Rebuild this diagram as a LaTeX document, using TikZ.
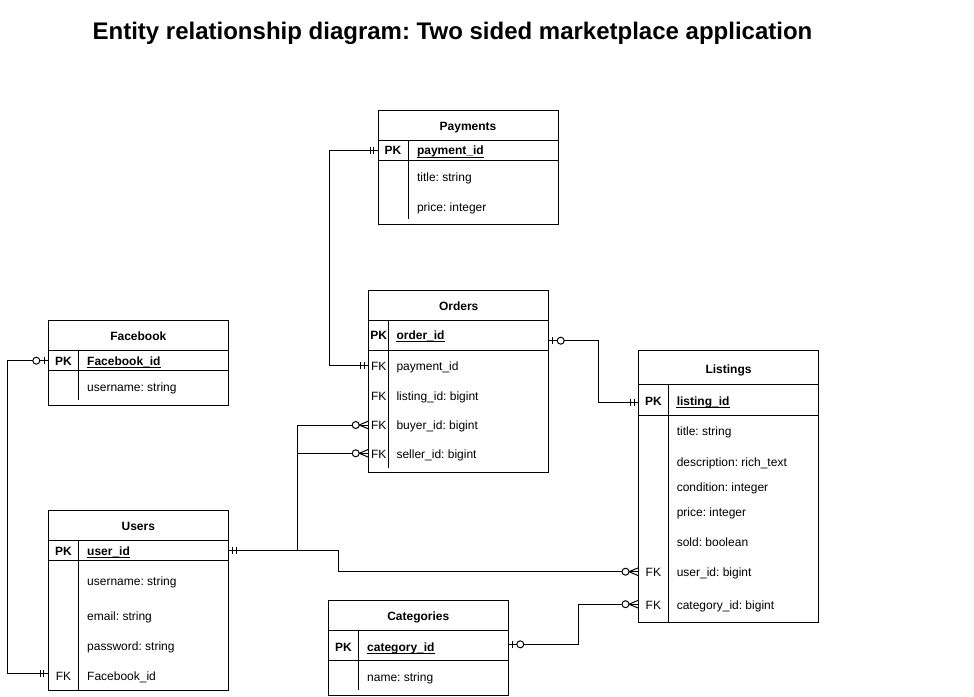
\documentclass[tikz,border=0pt]{standalone}
\usepackage{fontspec}
\setmainfont{Liberation Sans}
\usetikzlibrary{calc}
\frenchspacing
\newcommand\ertable[8]{%
  \node[tbl, minimum height=#4pt] (#1) at (#2,#3) {};
  \draw ($(#1.north west)+(0,#5)$) -- ($(#1.north east)+(0,#5)$);
  \draw ($(#1.north west)+(0,#5+#6)$) -- ($(#1.north east)+(0,#5+#6)$);
  \draw ($(#1.north west)+(#7,#5)$) -- ++(0,#8);
}
\newcommand\pkul[1]{\draw[line width=0.9pt] ($(#1.base west)+(0,2.3)$) -- ($(#1.base east)+(0,2.3)$);}
\tikzset{
  tbl/.style={draw, minimum width=180pt, anchor=north west, inner sep=0pt, outer sep=0pt},
  hdr/.style={font=\fontsize{12}{14}\selectfont\bfseries, inner sep=0pt, anchor=base},
  keyb/.style={font=\fontsize{12}{14}\selectfont\bfseries, inner sep=0pt, anchor=base},
  keyn/.style={font=\fontsize{12}{14}\selectfont, inner sep=0pt, anchor=base},
  fld/.style={font=\fontsize{12}{14}\selectfont, inner sep=0pt, anchor=base west},
  pkname/.style={font=\fontsize{12}{14}\selectfont\bfseries, inner sep=0pt, anchor=base west},
  conn/.style={draw, line width=1pt},
  one/.pic={\draw (4.5,-3.5)--(4.5,3.5) (8,-3.5)--(8,3.5);},
  zone/.pic={\draw (4,-3.5)--(4,3.5); \draw[fill=white] (12,0) circle[radius=3.5];},
  zmany/.pic={\draw (0,-4)--(9.5,0)--(0,4); \draw[fill=white] (13,0) circle[radius=3.5];},
}
\begin{document}
\begin{tikzpicture}[x=1pt,y=-1pt,line width=1pt]
\useasboundingbox (0,0) rectangle (974,696);

% title
\node[font=\fontsize{24}{28}\selectfont\bfseries, inner sep=0pt, anchor=base] (title) at (452.5,39.3) {Entity relationship diagram: Two sided marketplace application};

% Payments
\ertable{payments}{378}{110.7}{114}{30}{20}{30}{78.3}
\node[hdr] (payT) at (468,130.5) {Payments};
\node[keyb] (payK1) at (393,154.7) {PK};
\node[pkname] (payN1) at (416.5,154.7) {payment\_id};
\pkul{payN1}
\node[fld] (payN2) at (416.5,181) {title: string};
\node[fld] (payN3) at (416.5,211) {price: integer};

% Orders
\ertable{orders}{368.7}{290.7}{182}{30}{29.8}{20}{147.3}
\node[hdr] (ordT) at (458.7,310) {Orders};
\node[keyb] (ordK1) at (378.7,339.5) {PK};
\node[pkname] (ordN1) at (396,339.5) {order\_id};
\pkul{ordN1}
\node[keyn] (ordK2) at (378.7,370.5) {FK};
\node[fld] (ordN2) at (396,370.5) {payment\_id};
\node[keyn] (ordK3) at (378.7,400) {FK};
\node[fld] (ordN3) at (396,400) {listing\_id: bigint};
\node[keyn] (ordK4) at (378.7,429.3) {FK};
\node[fld] (ordN4) at (396,429.3) {buyer\_id: bigint};
\node[keyn] (ordK5) at (378.7,458.3) {FK};
\node[fld] (ordN5) at (396,458.3) {seller\_id: bigint};

% Listings
\ertable{listings}{638.5}{350.7}{272}{33.6}{31}{29.8}{238.4}
\node[hdr] (lstT) at (728.5,373) {Listings};
\node[keyb] (lstK1) at (653.4,405) {PK};
\node[pkname] (lstN1) at (676.3,405) {listing\_id};
\pkul{lstN1}
\node[fld] (lstN2) at (676.3,435.5) {title: string};
\node[fld] (lstN3) at (676.3,466) {description: rich\_text};
\node[fld] (lstN4) at (676.3,491.7) {condition: integer};
\node[fld] (lstN5) at (676.3,516.7) {price: integer};
\node[fld] (lstN6) at (676.3,546.5) {sold: boolean};
\node[keyn] (lstK7) at (653.4,576.7) {FK};
\node[fld] (lstN7) at (676.3,576.7) {user\_id: bigint};
\node[keyn] (lstK8) at (653.4,609.3) {FK};
\node[fld] (lstN8) at (676.3,609.3) {category\_id: bigint};

% Facebook
\ertable{facebook}{48.3}{320.7}{85}{30}{20}{30.4}{49.3}
\node[hdr] (fbT) at (138.3,340.7) {Facebook};
\node[keyb] (fbK1) at (63.5,365) {PK};
\node[pkname] (fbN1) at (86.7,365) {Facebook\_id};
\pkul{fbN1}
\node[fld] (fbN2) at (86.7,391.5) {username: string};

% Users
\ertable{users}{48.3}{510.7}{179.5}{30}{20}{30.4}{149.5}
\node[hdr] (usrT) at (138.3,530.7) {Users};
\node[keyb] (usrK1) at (63.5,555) {PK};
\node[pkname] (usrN1) at (86.7,555) {user\_id};
\pkul{usrN1}
\node[fld] (usrN2) at (86.7,585.3) {username: string};
\node[fld] (usrN3) at (86.7,620.3) {email: string};
\node[fld] (usrN4) at (86.7,650.3) {password: string};
\node[keyn] (usrK5) at (63.5,680.3) {FK};
\node[fld] (usrN5) at (86.7,680.3) {Facebook\_id};

% Categories
\ertable{categories}{328.3}{600.7}{94.3}{30}{29.6}{30.4}{59.3}
\node[hdr] (catT) at (418.3,620.7) {Categories};
\node[keyb] (catK1) at (343.5,651) {PK};
\node[pkname] (catN1) at (366.7,651) {category\_id};
\pkul{catN1}
\node[fld] (catN2) at (366.7,681) {name: string};

% attachment points
\coordinate (payPK) at ($(payments.north west)+(0,40)$);
\coordinate (ordPK) at ($(orders.north east)+(0,50)$);
\coordinate (ordPay) at ($(orders.north west)+(0,75)$);
\coordinate (ordBuy) at ($(orders.north west)+(0,134.3)$);
\coordinate (ordSel) at ($(orders.north west)+(0,162.6)$);
\coordinate (lstPK) at ($(listings.north west)+(0,51.6)$);
\coordinate (lstUsr) at ($(listings.north west)+(0,221)$);
\coordinate (lstCat) at ($(listings.north west)+(0,253.5)$);
\coordinate (fbPK) at ($(facebook.north west)+(0,40)$);
\coordinate (usrPK) at ($(users.north east)+(0,40)$);
\coordinate (usrFB) at ($(users.north west)+(0,163)$);
\coordinate (catPK) at ($(categories.north east)+(0,43.6)$);
\coordinate (jct) at ($(usrPK)+(69.5,0)$);

% connectors
\draw[conn] (payPK) -- ++(-49,0) |- (ordPay);
\draw[conn] (ordPK) -- ++(49.6,0) |- (lstPK);
\draw[conn] (fbPK) -- ++(-40.5,0) |- (usrFB);
\draw[conn] (usrPK) -- ++(110,0) |- (lstUsr);
\draw[conn] (jct) |- (ordBuy);
\draw[conn] (jct |- ordSel) -- (ordSel);
\draw[conn] (catPK) -- ++(70.5,0) |- (lstCat);

% end markers
\pic[rotate=180] at (payPK) {one};
\pic[rotate=180] at (ordPay) {one};
\pic at (ordPK) {zone};
\pic[rotate=180] at (lstPK) {one};
\pic[rotate=180] at (fbPK) {zone};
\pic[rotate=180] at (usrFB) {one};
\pic at (usrPK) {one};
\pic[rotate=180] at (ordBuy) {zmany};
\pic[rotate=180] at (ordSel) {zmany};
\pic[rotate=180] at (lstUsr) {zmany};
\pic[rotate=180] at (lstCat) {zmany};
\pic at (catPK) {zone};
\end{tikzpicture}
\end{document}
